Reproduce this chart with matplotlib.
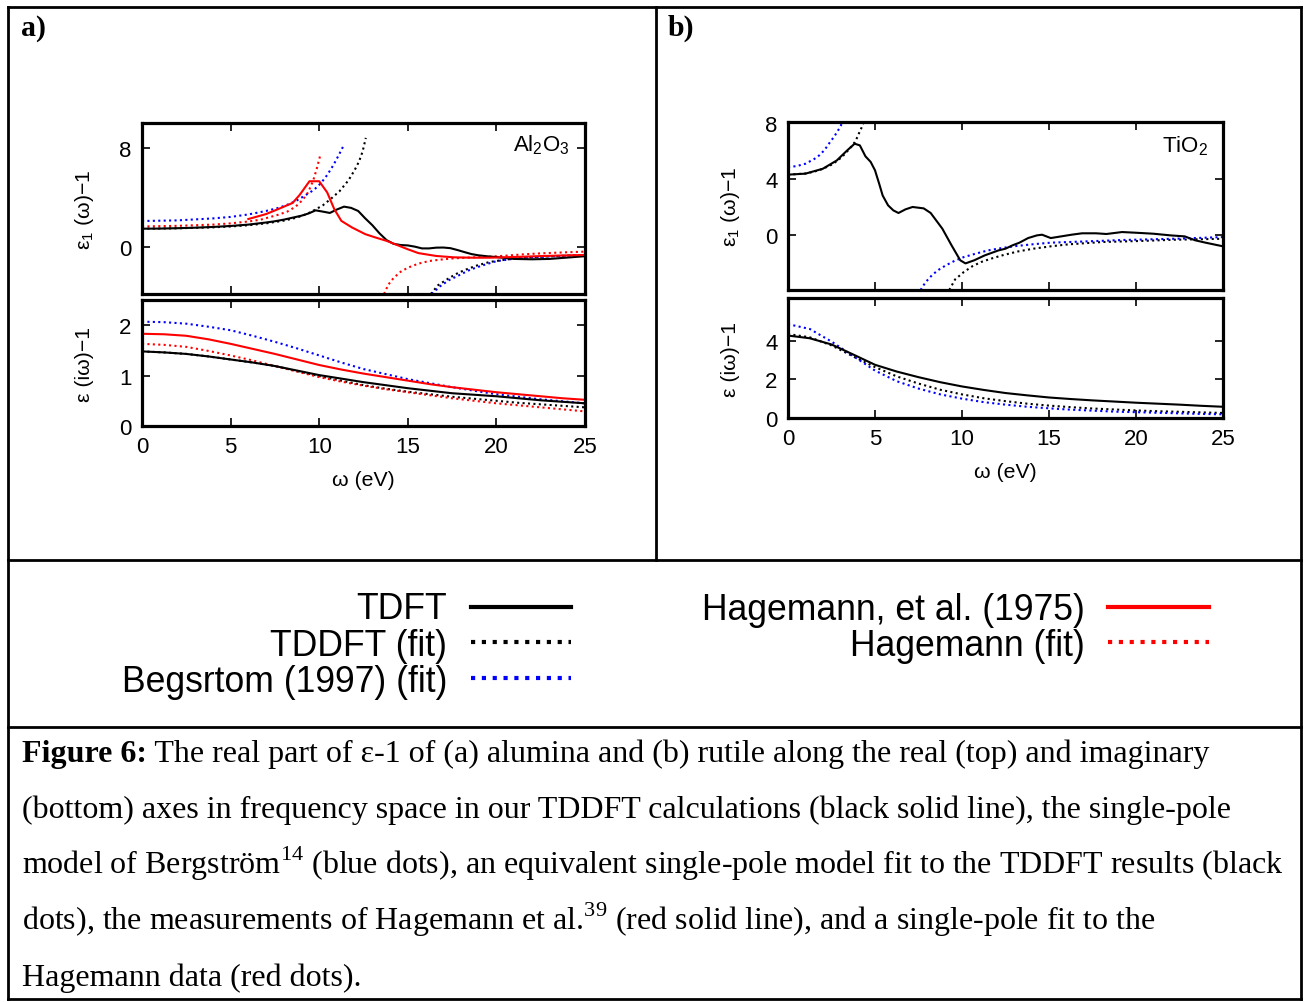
import matplotlib
matplotlib.use('Agg')
import matplotlib.pyplot as plt

# ---------------- data ----------------
# imaginary-axis curves share one frequency grid (eV)
w_im = [0, 1.25, 2.5, 3.75, 5, 6.25, 7.5, 8.75, 10, 11.25, 12.5, 13.75, 15,
        16.25, 17.5, 18.75, 20, 21.25, 22.5, 23.75, 25]

# Al2O3, eps(i w) - 1
al_im_tddft = [1.48, 1.46, 1.43, 1.38, 1.32, 1.26, 1.19, 1.10, 1.01, 0.94, 0.87,
               0.81, 0.75, 0.70, 0.65, 0.62, 0.59, 0.55, 0.51, 0.48, 0.45]
al_im_tddft_fit = [1.48, 1.46, 1.43, 1.38, 1.32, 1.26, 1.19, 1.09, 0.99, 0.90, 0.81,
                   0.74, 0.68, 0.63, 0.58, 0.54, 0.50, 0.46, 0.43, 0.40, 0.37]
al_im_berg = [2.07, 2.06, 2.03, 1.97, 1.90, 1.79, 1.67, 1.54, 1.40, 1.26, 1.13,
              1.03, 0.93, 0.85, 0.77, 0.70, 0.63, 0.58, 0.53, 0.49, 0.45]
al_im_hag = [1.83, 1.82, 1.79, 1.72, 1.63, 1.53, 1.43, 1.32, 1.21, 1.12, 1.04,
             0.97, 0.90, 0.83, 0.77, 0.72, 0.67, 0.63, 0.59, 0.55, 0.52]
al_im_hag_fit = [1.63, 1.61, 1.57, 1.49, 1.40, 1.30, 1.19, 1.08, 0.97, 0.88, 0.80,
                 0.73, 0.67, 0.61, 0.55, 0.50, 0.45, 0.41, 0.37, 0.33, 0.29]

# TiO2, eps(i w) - 1
ti_im_tddft = [4.26, 4.12, 3.80, 3.28, 2.75, 2.40, 2.11, 1.85, 1.63, 1.45, 1.29,
               1.17, 1.06, 0.98, 0.91, 0.85, 0.79, 0.74, 0.69, 0.63, 0.58]
ti_im_tddft_fit = [4.34, 4.17, 3.75, 3.18, 2.63, 2.15, 1.78, 1.46, 1.22, 1.02, 0.87,
                   0.74, 0.64, 0.56, 0.49, 0.44, 0.39, 0.35, 0.32, 0.29, 0.26]
ti_im_berg = [4.85, 4.60, 3.95, 3.20, 2.45, 1.90, 1.52, 1.22, 1.00, 0.82, 0.69,
              0.58, 0.50, 0.43, 0.38, 0.33, 0.30, 0.27, 0.24, 0.21, 0.19]

# Al2O3, eps1(w) - 1
al_re_tddft_w = [0, 1, 2, 3, 4, 5, 6, 7, 7.5, 8, 8.5, 9, 9.4, 9.8, 10.2, 10.6, 11.0,
                 11.4, 11.8, 12.2, 12.6, 13.0, 13.4, 13.8, 14.2, 14.6, 15.0, 15.4,
                 15.8, 16.2, 16.6, 17.0, 17.4, 17.8, 18.2, 18.6, 19.0, 19.5, 20, 21,
                 22, 23, 24, 25]
al_re_tddft = [1.47, 1.48, 1.51, 1.55, 1.61, 1.69, 1.80, 1.97, 2.07, 2.20, 2.36, 2.52,
               2.70, 2.95, 2.85, 2.74, 3.02, 3.25, 3.15, 2.90, 2.30, 1.75, 1.10, 0.55,
               0.25, 0.15, 0.12, 0.02, -0.12, -0.12, -0.06, -0.05, -0.10, -0.25, -0.42,
               -0.58, -0.68, -0.76, -0.82, -0.97, -1.00, -0.97, -0.86, -0.75]
al_re_hag_w = [6.0, 7.0, 7.7, 8.5, 8.9, 9.45, 10.0, 10.45, 10.85, 11.25, 11.85, 12.6,
               13.2, 13.8, 14.4, 15.0, 15.6, 16.6, 17.6, 18.6, 19.6, 20.6, 21.5, 22.5,
               23.5, 25]
al_re_hag = [2.25, 2.65, 3.06, 3.55, 4.20, 5.30, 5.30, 4.40, 3.05, 2.10, 1.57, 1.03,
             0.75, 0.49, 0.15, -0.19, -0.50, -0.73, -0.84, -0.87, -0.87, -0.83, -0.79,
             -0.74, -0.70, -0.65]
al_re_tddft_fit_lo_w = [0, 2, 4, 5, 6, 7, 8, 8.7, 9.3, 9.7, 10.2, 10.65, 11.15, 11.65,
                        12.0, 12.25, 12.45, 12.63]
al_re_tddft_fit_lo = [1.47, 1.50, 1.58, 1.65, 1.75, 1.90, 2.12, 2.35, 2.65, 2.95, 3.35,
                      3.87, 4.50, 5.37, 6.20, 6.90, 7.70, 8.80]
al_re_tddft_fit_hi_w = [16.3, 16.7, 17.2, 17.7, 18.2, 18.9, 19.6, 20.4, 21.1, 22, 23, 24, 25]
al_re_tddft_fit_hi = [-3.8, -3.1, -2.63, -2.2, -1.87, -1.5, -1.22, -1.05, -0.92, -0.83,
                      -0.76, -0.70, -0.65]
al_re_berg_lo_w = [0, 2, 4, 5, 6, 7, 7.7, 8.2, 8.7, 9.2, 9.7, 10.1, 10.45, 10.8, 11.1, 11.35]
al_re_berg_lo = [2.09, 2.14, 2.30, 2.42, 2.62, 2.90, 3.15, 3.40, 3.72, 4.15, 4.60, 5.15,
                 5.80, 6.60, 7.40, 8.10]
al_re_berg_hi_w = [16.35, 16.8, 17.3, 17.8, 18.5, 19.2, 20, 21, 22, 23, 24, 25]
al_re_berg_hi = [-3.8, -3.2, -2.7, -2.35, -1.85, -1.5, -1.15, -0.95, -0.85, -0.77,
                 -0.71, -0.66]
al_re_hag_fit_lo_w = [0, 2, 4, 5, 6, 6.7, 7.7, 8.2, 8.67, 9.07, 9.37, 9.66, 9.86, 10.06]
al_re_hag_fit_lo = [1.65, 1.70, 1.80, 1.90, 2.05, 2.20, 2.60, 2.85, 3.25, 3.80, 4.40,
                    5.35, 6.30, 7.40]
al_re_hag_fit_hi_w = [13.66, 13.9, 14.2, 14.6, 15.0, 15.6, 16.2, 17, 17.6, 18.6, 19.6,
                      20.6, 21.5, 22.5, 23.5, 25]
al_re_hag_fit_hi = [-3.8, -3.05, -2.5, -2.0, -1.68, -1.35, -1.14, -1.0, -0.92, -0.85,
                    -0.79, -0.70, -0.60, -0.52, -0.46, -0.38]

# TiO2, eps1(w) - 1
ti_re_tddft_w = [0, 1, 2, 2.8, 3.4, 3.83, 4.13, 4.45, 4.75, 5.0, 5.25, 5.44, 5.75, 6.05,
                 6.35, 6.75, 7.16, 7.8, 8.2, 8.87, 9.4, 9.9, 10.2, 10.7, 11.3, 12.1,
                 12.5, 12.9, 13.3, 13.8, 14.3, 14.6, 15.1, 15.7, 16.3, 16.9, 17.7, 18.3,
                 19.2, 20.0, 21.0, 22.0, 22.8, 23.4, 24.0, 25.0]
ti_re_tddft = [4.29, 4.36, 4.71, 5.30, 6.02, 6.50, 6.38, 5.60, 5.20, 4.60, 3.60, 2.80,
               2.10, 1.74, 1.55, 1.81, 1.98, 1.88, 1.55, 0.43, -0.76, -1.83, -2.05,
               -1.83, -1.48, -1.12, -1.00, -0.76, -0.57, -0.24, -0.05, 0.00, -0.24,
               -0.12, 0.00, 0.10, 0.10, 0.05, 0.19, 0.14, 0.07, -0.05, -0.12, -0.40,
               -0.57, -0.83]
ti_re_tddft_fit_lo_w = [0, 1, 1.5, 2, 2.5, 2.8, 3.1, 3.4, 3.65, 3.83, 4.0, 4.13, 4.25, 4.35]
ti_re_tddft_fit_lo = [4.29, 4.37, 4.50, 4.70, 5.00, 5.25, 5.55, 5.95, 6.30, 6.60, 7.00,
                      7.40, 7.70, 8.05]
ti_re_tddft_fit_hi_w = [9.27, 9.6, 10.1, 10.6, 11.1, 11.7, 12.3, 13.2, 14.1, 15.1, 16.1,
                        18.1, 20.2, 22.2, 25]
ti_re_tddft_fit_hi = [-3.95, -3.2, -2.67, -2.25, -1.95, -1.7, -1.48, -1.2, -1.0, -0.83,
                      -0.69, -0.52, -0.45, -0.36, -0.29]
ti_re_berg_lo_w = [0, 0.5, 1.0, 1.5, 1.8, 2.1, 2.42, 2.65, 2.82, 3.0, 3.13]
ti_re_berg_lo = [4.83, 4.90, 5.07, 5.40, 5.67, 6.05, 6.62, 7.00, 7.33, 7.70, 8.05]
ti_re_berg_hi_w = [7.62, 7.9, 8.27, 8.6, 9.07, 9.6, 10.1, 10.8, 11.5, 12.3, 13.1, 14.1,
                   15.1, 17.1, 19.2, 22.2, 25]
ti_re_berg_hi = [-3.95, -3.4, -2.9, -2.55, -2.19, -1.85, -1.6, -1.35, -1.12, -0.95,
                 -0.81, -0.68, -0.57, -0.48, -0.38, -0.29, -0.17]

x_ticks = [0, 5, 10, 15, 20, 25]
al_top_yticks = [0, 8]
al_bot_yticks = [0, 1, 2]
ti_top_yticks = [0, 4, 8]
ti_bot_yticks = [0, 2, 4]

legend_left = ["TDFT", "TDDFT (fit)", "Begsrtom (1997) (fit)"]
legend_right = ["Hagemann, et al. (1975)", "Hagemann (fit)"]

caption_lines = [
    " The real part of ε-1 of (a) alumina and (b) rutile along the real (top) and imaginary",
    "(bottom) axes in frequency space in our TDDFT calculations (black solid line), the single-pole",
    "model of Bergström$^{\\mathregular{14}}$ (blue dots), an equivalent single-pole model fit to the TDDFT results (black",
    "dots), the measurements of Hagemann et al.$^{\\mathregular{39}}$ (red solid line), and a single-pole fit to the",
    "Hagemann data (red dots).",
]

# ---------------- figure ----------------
W, H = 1304, 1003
plt.rcParams['font.family'] = ['Liberation Sans', 'DejaVu Sans']
fig = plt.figure(figsize=(W / 100, H / 100), dpi=100)

bg = fig.add_axes([0, 0, 1, 1], zorder=0)
bg.set_xlim(0, W)
bg.set_ylim(H, 0)
bg.axis('off')

RED = '#ff0000'
BLUE = '#0000ff'
DOT = (0, (1, 1.6))
LW = 1.5

# table borders
blw = 2.0
for xs, ys in [([8, 1301], [8, 8]), ([8, 1301], [561, 561]), ([8, 1301], [728, 728]),
               ([8, 1301], [1000, 1000]), ([8, 8], [8, 1000]), ([1301, 1301], [8, 1000]),
               ([656, 656], [8, 561])]:
    bg.plot(xs, ys, color='k', lw=blw, solid_capstyle='projecting')

serif = ['Liberation Serif', 'DejaVu Serif']
bg.text(21, 36, "a)", family=serif, weight='bold', fontsize=21.5, va='baseline')
bg.text(668, 36, "b)", family=serif, weight='bold', fontsize=21.5, va='baseline')


def make_ax(l, t, r, b):
    ax = fig.add_axes([l / W, 1 - b / H, (r - l) / W, (b - t) / H], zorder=2)
    ax.set_xlim(0, 25)
    ax.set_xticks(x_ticks)
    for s in ax.spines.values():
        s.set_linewidth(2.3)
    ax.tick_params(direction='in', length=6, width=1.2, top=True, right=True,
                   labelsize=16, pad=7.5)
    return ax


# ----- panel a -----
a_top = make_ax(142, 124, 585, 295)
a_top.set_ylim(-3.8, 10)
a_top.set_yticks(al_top_yticks)
a_top.tick_params(labelbottom=False)
a_top.plot(al_re_tddft_fit_lo_w, al_re_tddft_fit_lo, color='k', lw=LW, ls=DOT)
a_top.plot(al_re_tddft_fit_hi_w, al_re_tddft_fit_hi, color='k', lw=LW, ls=DOT)
a_top.plot(al_re_berg_lo_w, al_re_berg_lo, color=BLUE, lw=LW, ls=DOT)
a_top.plot(al_re_berg_hi_w, al_re_berg_hi, color=BLUE, lw=LW, ls=DOT)
a_top.plot(al_re_hag_fit_lo_w, al_re_hag_fit_lo, color=RED, lw=LW, ls=DOT)
a_top.plot(al_re_hag_fit_hi_w, al_re_hag_fit_hi, color=RED, lw=LW, ls=DOT)
a_top.plot(al_re_tddft_w, al_re_tddft, color='k', lw=LW)
a_top.plot(al_re_hag_w, al_re_hag, color=RED, lw=LW)
a_top.text(0.965, 0.875, "Al$_\\mathregular{2}$O$_\\mathregular{3}$", transform=a_top.transAxes,
           ha='right', va='center', fontsize=16)

a_bot = make_ax(142, 301, 585, 427)
a_bot.set_ylim(0, 2.5)
a_bot.set_yticks(al_bot_yticks)
a_bot.plot(w_im, al_im_tddft_fit, color='k', lw=LW, ls=DOT)
a_bot.plot(w_im, al_im_berg, color=BLUE, lw=LW, ls=DOT)
a_bot.plot(w_im, al_im_hag_fit, color=RED, lw=LW, ls=DOT)
a_bot.plot(w_im, al_im_tddft, color='k', lw=LW)
a_bot.plot(w_im, al_im_hag, color=RED, lw=LW)

# ----- panel b -----
b_top = make_ax(788, 123, 1223, 291)
b_top.set_ylim(-3.95, 8.05)
b_top.set_yticks(ti_top_yticks)
b_top.tick_params(labelbottom=False)
b_top.plot(ti_re_tddft_fit_lo_w, ti_re_tddft_fit_lo, color='k', lw=LW, ls=DOT)
b_top.plot(ti_re_tddft_fit_hi_w, ti_re_tddft_fit_hi, color='k', lw=LW, ls=DOT)
b_top.plot(ti_re_berg_lo_w, ti_re_berg_lo, color=BLUE, lw=LW, ls=DOT)
b_top.plot(ti_re_berg_hi_w, ti_re_berg_hi, color=BLUE, lw=LW, ls=DOT)
b_top.plot(ti_re_tddft_w, ti_re_tddft, color='k', lw=LW)
b_top.text(0.965, 0.86, "TiO$_\\mathregular{2}$", transform=b_top.transAxes,
           ha='right', va='center', fontsize=16)

b_bot = make_ax(788, 299, 1223, 419)
b_bot.set_ylim(0, 6.2)
b_bot.set_yticks(ti_bot_yticks)
b_bot.plot(w_im, ti_im_tddft_fit, color='k', lw=LW, ls=DOT)
b_bot.plot(w_im, ti_im_berg, color=BLUE, lw=LW, ls=DOT)
b_bot.plot(w_im, ti_im_tddft, color='k', lw=LW)

# axis labels
lab_fs = 15.3
bg.text(85, 210, "ε$_\\mathregular{1}$ (ω)−1", rotation=90, ha='center', va='center', fontsize=lab_fs)
bg.text(85, 364, "ε (iω)−1", rotation=90, ha='center', va='center', fontsize=lab_fs)
bg.text(363, 480, "ω (eV)", ha='center', va='center', fontsize=lab_fs)
bg.text(730, 207, "ε$_\\mathregular{1}$ (ω)−1", rotation=90, ha='center', va='center', fontsize=lab_fs)
bg.text(730, 359, "ε (iω)−1", rotation=90, ha='center', va='center', fontsize=lab_fs)
bg.text(1005, 473, "ω (eV)", ha='center', va='center', fontsize=lab_fs)

# ----- legend -----
leg_fs = 25.6
left_styles = [dict(color='k', lw=3.0), dict(color='k', lw=3.0, ls=DOT),
               dict(color=BLUE, lw=3.0, ls=DOT)]
left_base = [619, 655.5, 692]
left_line_y = [607.5, 643, 679]
for txt, st, yb, yl in zip(legend_left, left_styles, left_base, left_line_y):
    bg.text(447, yb, txt, ha='right', va='baseline', fontsize=leg_fs)
    bg.plot([471, 571], [yl, yl], **st)
right_styles = [dict(color=RED, lw=3.0), dict(color=RED, lw=3.0, ls=DOT)]
right_base = [620, 655.5]
right_line_y = [608, 643]
for txt, st, yb, yl in zip(legend_right, right_styles, right_base, right_line_y):
    bg.text(1085, yb, txt, ha='right', va='baseline', fontsize=leg_fs)
    bg.plot([1108, 1209], [yl, yl], **st)

# ----- caption -----
cap_fs = 23
y0 = 762
dy = 56
t0 = bg.text(22, y0, "Figure 6:", family=serif, weight='bold', fontsize=cap_fs, va='baseline')
bg.annotate(caption_lines[0], xy=(1, 0), xycoords=t0, va='bottom', ha='left',
            family=serif, fontsize=cap_fs)
for i, line in enumerate(caption_lines[1:], start=1):
    bg.text(22, y0 + i * dy, line, family=serif, fontsize=cap_fs, va='baseline')

fig.savefig('out.png', dpi=100)
